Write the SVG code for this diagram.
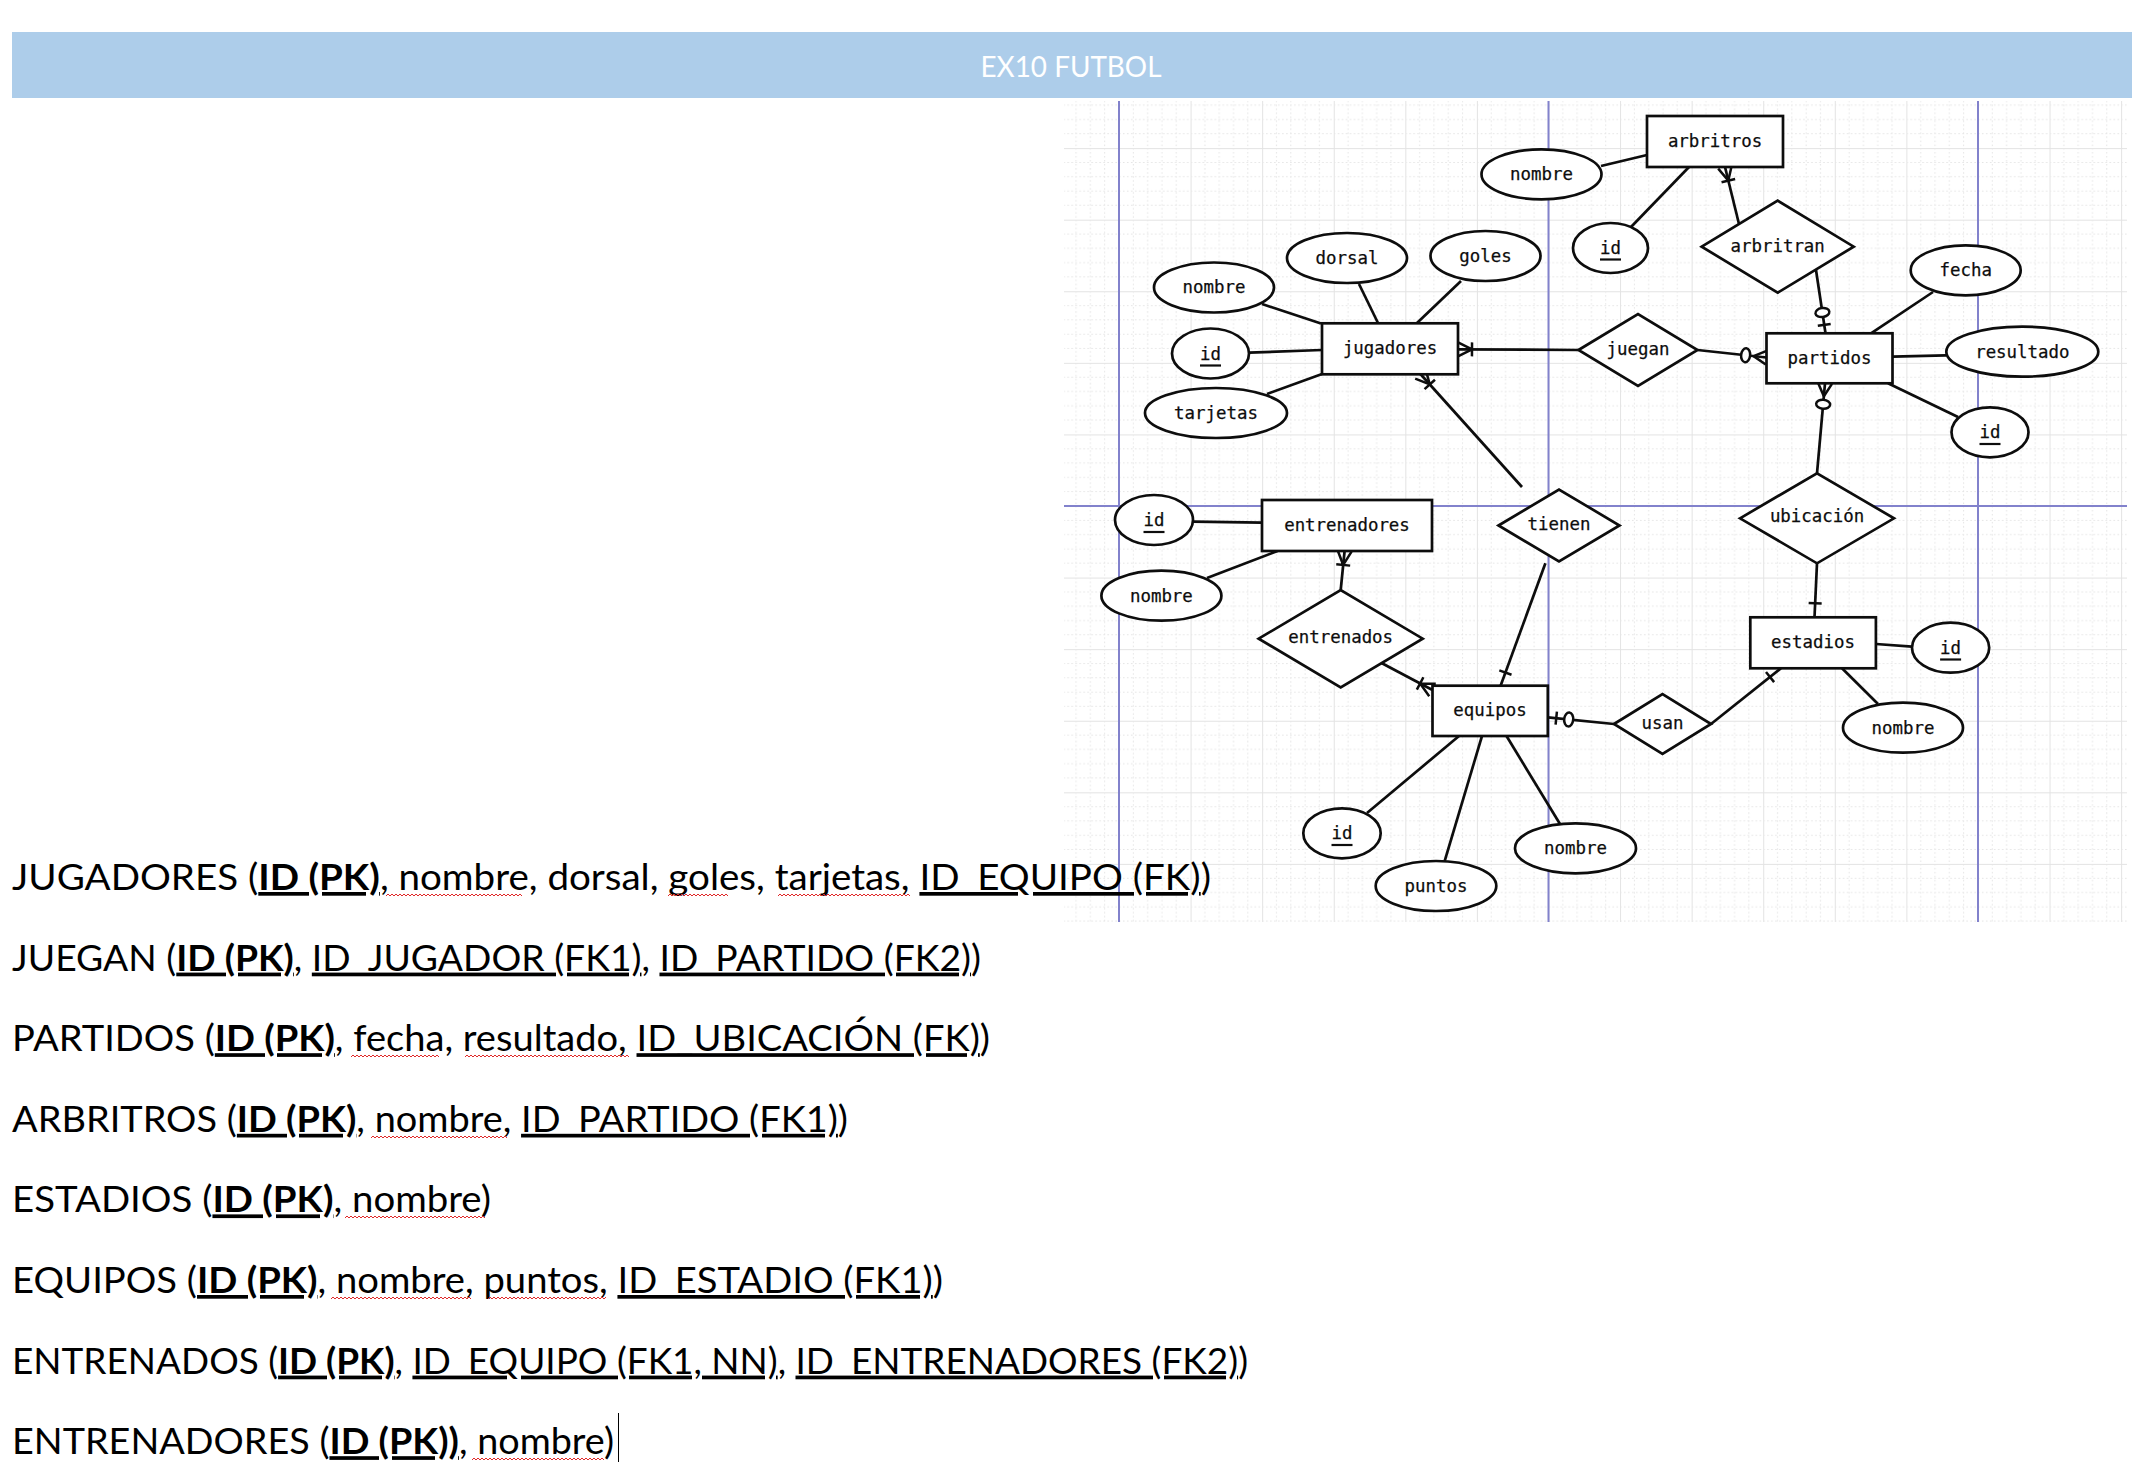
<svg xmlns="http://www.w3.org/2000/svg" width="2152" height="1480" viewBox="0 0 2152 1480">
  <style>
    .ent { fill: #ffffff; stroke: #0d0d0d; stroke-width: 2.7; }
    .rel { fill: #ffffff; stroke: #0d0d0d; stroke-width: 2.7; }
    .att { fill: #ffffff; stroke: #0d0d0d; stroke-width: 2.7; }
    .lbl { font-family: "DejaVu Sans Mono", monospace; font-size: 17.4px; fill: #0d0d0d; text-anchor: middle; stroke: #0d0d0d; stroke-width: 0.25; }
    .key { stroke: #0d0d0d; stroke-width: 2.2; }
    .conn path { fill: none; stroke: #0d0d0d; stroke-width: 2.7; }
    .guide { stroke: #8282cc; stroke-width: 2; }
    .body { font-family: Lato, "Open Sans", sans-serif; font-size: 37px; fill: #000000; }
    .pk { font-weight: 700; text-decoration: underline; }
    .fk { text-decoration: underline; }
  </style>
  <defs>
    <!-- drawing grid: dotted minor lines, solid major lines -->
    <pattern id="gridTile" patternUnits="userSpaceOnUse" x="1119" y="506" width="71.58" height="71.58">
      <path d="M14.316,0V71.58 M28.632,0V71.58 M42.948,0V71.58 M57.264,0V71.58 M0,14.316H71.58 M0,28.632H71.58 M0,42.948H71.58 M0,57.264H71.58" fill="none" stroke="#e4e4e4" stroke-width="1" stroke-dasharray="1.5 2.5"/>
      <path d="M0.5,0V71.58 M0,0.5H71.58" fill="none" stroke="#e3e3e3" stroke-width="1"/>
    </pattern>
    <!-- spell-check squiggle -->
    <pattern id="wave" patternUnits="userSpaceOnUse" x="0" y="0" width="4" height="4">
      <path d="M0,3 L2,1 L4,3" fill="none" stroke="#e02828" stroke-width="1"/>
    </pattern>
    <!-- crow's foot notation ends; x axis points away from the entity -->
    <marker id="mandMany" markerUnits="userSpaceOnUse" orient="auto" overflow="visible" refX="0" refY="0" markerWidth="30" markerHeight="30">
      <path d="M0,-7 L14,0 M0,7 L14,0 M14,-7 L14,7" fill="none" stroke="#0d0d0d" stroke-width="2.5"/>
    </marker>
    <marker id="zeroMany" markerUnits="userSpaceOnUse" orient="auto" overflow="visible" refX="0" refY="0" markerWidth="30" markerHeight="30">
      <path d="M0,-7 L13,0 M0,7 L13,0" fill="none" stroke="#0d0d0d" stroke-width="2.5"/>
      <ellipse cx="21" cy="0" rx="4.5" ry="7" fill="#ffffff" stroke="#0d0d0d" stroke-width="2.5"/>
    </marker>
    <marker id="zeroOne" markerUnits="userSpaceOnUse" orient="auto" overflow="visible" refX="0" refY="0" markerWidth="30" markerHeight="30">
      <path d="M8.5,-6.5 L8.5,6.5" fill="none" stroke="#0d0d0d" stroke-width="2.5"/>
      <ellipse cx="21" cy="0" rx="4.5" ry="7" fill="#ffffff" stroke="#0d0d0d" stroke-width="2.5"/>
    </marker>
    <marker id="one" markerUnits="userSpaceOnUse" orient="auto" overflow="visible" refX="0" refY="0" markerWidth="30" markerHeight="30">
      <path d="M14,-6.5 L14,6.5" fill="none" stroke="#0d0d0d" stroke-width="2.5"/>
    </marker>
  </defs>

  <rect x="0" y="0" width="2152" height="1480" fill="#ffffff"/>

  <!-- title banner -->
  <g id="banner">
    <rect x="12" y="32" width="2120" height="66" fill="#adcdea"/>
    <text x="1071" y="77" font-family="Lato, 'Open Sans', sans-serif" font-size="28" fill="#ffffff" text-anchor="middle" textLength="181" lengthAdjust="spacingAndGlyphs">EX10 FUTBOL</text>
  </g>

  <!-- canvas with grid -->
  <g id="canvas">
    <rect x="1064" y="101" width="1063" height="821" fill="#ffffff"/>
    <rect x="1064" y="101" width="1063" height="821" fill="url(#gridTile)"/>
    <line class="guide" x1="1119" y1="101" x2="1119" y2="922"/>
    <line class="guide" x1="1548.5" y1="101" x2="1548.5" y2="922"/>
    <line class="guide" x1="1978" y1="101" x2="1978" y2="922"/>
    <line class="guide" x1="1064" y1="506" x2="2127" y2="506"/>
  </g>

  <!-- connectors -->
  <g id="connectors" class="conn">
    <!-- attribute links -->
    <path d="M1262,304 L1321,323.5"/>
    <path d="M1359,284 L1378,323"/>
    <path d="M1461,281 L1417,323"/>
    <path d="M1249,352.7 L1322,350"/>
    <path d="M1267,394 L1322,374"/>
    <path d="M1601,166 L1647,155"/>
    <path d="M1631,227 L1689,167"/>
    <path d="M1933,292 L1871,333.3"/>
    <path d="M1946,355.3 L1892.5,356.7"/>
    <path d="M1958,417 L1888,383.3"/>
    <path d="M1912,646.7 L1876,644"/>
    <path d="M1878,704 L1842,668.3"/>
    <path d="M1193,521.7 L1262,522.7"/>
    <path d="M1207,578 L1277.5,551"/>
    <path d="M1367,813 L1459,736"/>
    <path d="M1444.5,861.7 L1482,736"/>
    <path d="M1560,824 L1506.5,736"/>
    <!-- relationship links -->
    <path d="M1458,349.3 L1578.5,350" marker-start="url(#mandMany)"/>
    <path d="M1766.5,357.5 L1697.5,350" marker-start="url(#zeroMany)"/>
    <path d="M1725,167 L1739,224" marker-start="url(#mandMany)"/>
    <path d="M1825.5,333.3 L1816,270" marker-start="url(#zeroOne)"/>
    <path d="M1825,383.3 L1817,473.3" marker-start="url(#zeroMany)"/>
    <path d="M1814.5,617.3 L1817,563.3" marker-start="url(#one)"/>
    <path d="M1781,668.3 L1711,724" marker-start="url(#one)"/>
    <path d="M1547.8,717.3 L1614,724" marker-start="url(#zeroOne)"/>
    <path d="M1500.6,685.7 L1545.4,563.3" marker-start="url(#one)"/>
    <path d="M1420.4,374 L1522,487" marker-start="url(#mandMany)"/>
    <path d="M1432.5,690 L1381.5,663" marker-start="url(#mandMany)"/>
    <path d="M1344.6,551 L1340.7,590" marker-start="url(#mandMany)"/>
  </g>

  <!-- entities -->
  <g id="jugadores">
    <rect class="ent" x="1322" y="323.3" width="136" height="51"/>
    <text class="lbl" x="1390" y="354">jugadores</text>
  </g>
  <g id="arbritros">
    <rect class="ent" x="1647" y="116" width="136" height="51"/>
    <text class="lbl" x="1715" y="147">arbritros</text>
  </g>
  <g id="partidos">
    <rect class="ent" x="1766.5" y="333.3" width="126" height="50"/>
    <text class="lbl" x="1829.5" y="363.5">partidos</text>
  </g>
  <g id="estadios">
    <rect class="ent" x="1750.3" y="617.3" width="125.6" height="51"/>
    <text class="lbl" x="1813" y="647.5">estadios</text>
  </g>
  <g id="equipos">
    <rect class="ent" x="1432.5" y="685.7" width="115.3" height="50.3"/>
    <text class="lbl" x="1490" y="716">equipos</text>
  </g>
  <g id="entrenadores">
    <rect class="ent" x="1262" y="500" width="170" height="51"/>
    <text class="lbl" x="1347" y="531">entrenadores</text>
  </g>

  <!-- relationships -->
  <g id="juegan">
    <polygon class="rel" points="1578.5,350 1638,314 1697.5,350 1638,386"/>
    <text class="lbl" x="1638" y="355">juegan</text>
  </g>
  <g id="arbritran">
    <polygon class="rel" points="1701.7,246.7 1777.7,200.7 1853.7,246.7 1777.7,292.7"/>
    <text class="lbl" x="1777.7" y="251.5">arbritran</text>
  </g>
  <g id="ubicacion">
    <polygon class="rel" points="1740,518.3 1817,473.3 1894,518.3 1817,563.3"/>
    <text class="lbl" x="1817" y="521.5">ubicación</text>
  </g>
  <g id="tienen">
    <polygon class="rel" points="1498.5,525.5 1559,489.5 1619.5,525.5 1559,561.5"/>
    <text class="lbl" x="1559" y="530">tienen</text>
  </g>
  <g id="usan">
    <polygon class="rel" points="1614,724 1662.5,694 1711,724 1662.5,754"/>
    <text class="lbl" x="1662.5" y="728.5">usan</text>
  </g>
  <g id="entrenados">
    <polygon class="rel" points="1258.7,638.7 1340.7,590 1422.7,638.7 1340.7,687.4"/>
    <text class="lbl" x="1340.7" y="643">entrenados</text>
  </g>

  <!-- attributes -->
  <g id="jugadores-nombre">
    <ellipse class="att" cx="1214" cy="287.5" rx="60" ry="25"/>
    <text class="lbl" x="1214" y="293">nombre</text>
  </g>
  <g id="jugadores-dorsal">
    <ellipse class="att" cx="1347" cy="258" rx="60" ry="25"/>
    <text class="lbl" x="1347" y="263.5">dorsal</text>
  </g>
  <g id="jugadores-goles">
    <ellipse class="att" cx="1485.5" cy="256" rx="55" ry="25"/>
    <text class="lbl" x="1485.5" y="261.5">goles</text>
  </g>
  <g id="jugadores-id">
    <ellipse class="att" cx="1210.5" cy="353.5" rx="38.5" ry="25"/>
    <text class="lbl" x="1210.5" y="359.5">id</text>
    <line class="key" x1="1200" y1="365.5" x2="1221" y2="365.5"/>
  </g>
  <g id="jugadores-tarjetas">
    <ellipse class="att" cx="1216" cy="413" rx="71" ry="25"/>
    <text class="lbl" x="1216" y="418.5">tarjetas</text>
  </g>
  <g id="arbritros-nombre">
    <ellipse class="att" cx="1541.5" cy="174.3" rx="60" ry="25"/>
    <text class="lbl" x="1541.5" y="180">nombre</text>
  </g>
  <g id="arbritros-id">
    <ellipse class="att" cx="1610.5" cy="248" rx="37.5" ry="25"/>
    <text class="lbl" x="1610.5" y="254">id</text>
    <line class="key" x1="1600" y1="259.5" x2="1621" y2="259.5"/>
  </g>
  <g id="partidos-fecha">
    <ellipse class="att" cx="1965.7" cy="270.3" rx="55" ry="25"/>
    <text class="lbl" x="1965.7" y="276">fecha</text>
  </g>
  <g id="partidos-resultado">
    <ellipse class="att" cx="2022.3" cy="351.7" rx="76" ry="25"/>
    <text class="lbl" x="2022.3" y="357.5">resultado</text>
  </g>
  <g id="partidos-id">
    <ellipse class="att" cx="1990" cy="432.3" rx="38.5" ry="25"/>
    <text class="lbl" x="1990" y="438.3">id</text>
    <line class="key" x1="1979.5" y1="444" x2="2000.5" y2="444"/>
  </g>
  <g id="estadios-id">
    <ellipse class="att" cx="1950.6" cy="647.7" rx="38.6" ry="25"/>
    <text class="lbl" x="1950.6" y="653.7">id</text>
    <line class="key" x1="1940.1" y1="659.5" x2="1961.1" y2="659.5"/>
  </g>
  <g id="estadios-nombre">
    <ellipse class="att" cx="1903" cy="727.7" rx="60" ry="25"/>
    <text class="lbl" x="1903" y="733.5">nombre</text>
  </g>
  <g id="entrenadores-id">
    <ellipse class="att" cx="1154" cy="520" rx="39" ry="25"/>
    <text class="lbl" x="1154" y="526">id</text>
    <line class="key" x1="1143.5" y1="532" x2="1164.5" y2="532"/>
  </g>
  <g id="entrenadores-nombre">
    <ellipse class="att" cx="1161.4" cy="595.7" rx="60" ry="25"/>
    <text class="lbl" x="1161.4" y="601.5">nombre</text>
  </g>
  <g id="equipos-id">
    <ellipse class="att" cx="1342" cy="833.3" rx="38.7" ry="25"/>
    <text class="lbl" x="1342" y="839.3">id</text>
    <line class="key" x1="1331.5" y1="845" x2="1352.5" y2="845"/>
  </g>
  <g id="equipos-puntos">
    <ellipse class="att" cx="1436" cy="886" rx="60.3" ry="25"/>
    <text class="lbl" x="1436" y="892">puntos</text>
  </g>
  <g id="equipos-nombre">
    <ellipse class="att" cx="1575.5" cy="848.3" rx="60.5" ry="25"/>
    <text class="lbl" x="1575.5" y="854">nombre</text>
  </g>

  <!-- relational schema -->
  <g id="schema">
    <text class="body" x="12" y="890" textLength="1199" lengthAdjust="spacingAndGlyphs">JUGADORES (<tspan class="pk">ID (PK)</tspan>, nombre, dorsal, goles, tarjetas, <tspan class="fk">ID_EQUIPO (FK)</tspan>)</text>
    <text class="body" x="12" y="970.6" textLength="969" lengthAdjust="spacingAndGlyphs">JUEGAN (<tspan class="pk">ID (PK)</tspan>, <tspan class="fk">ID_JUGADOR (FK1)</tspan>, <tspan class="fk">ID_PARTIDO (FK2)</tspan>)</text>
    <text class="body" x="12" y="1051.2" textLength="978" lengthAdjust="spacingAndGlyphs">PARTIDOS (<tspan class="pk">ID (PK)</tspan>, fecha, resultado, <tspan class="fk">ID_UBICACIÓN (FK)</tspan>)</text>
    <text class="body" x="12" y="1131.8" textLength="836" lengthAdjust="spacingAndGlyphs">ARBRITROS (<tspan class="pk">ID (PK)</tspan>, nombre, <tspan class="fk">ID_PARTIDO (FK1)</tspan>)</text>
    <text class="body" x="12" y="1212.4" textLength="479" lengthAdjust="spacingAndGlyphs">ESTADIOS (<tspan class="pk">ID (PK)</tspan>, nombre)</text>
    <text class="body" x="12" y="1293" textLength="931" lengthAdjust="spacingAndGlyphs">EQUIPOS (<tspan class="pk">ID (PK)</tspan>, nombre, puntos, <tspan class="fk">ID_ESTADIO (FK1)</tspan>)</text>
    <text class="body" x="12" y="1373.6" textLength="1236" lengthAdjust="spacingAndGlyphs">ENTRENADOS (<tspan class="pk">ID (PK)</tspan>, <tspan class="fk">ID_EQUIPO (FK1, NN)</tspan>, <tspan class="fk">ID_ENTRENADORES (FK2)</tspan>)</text>
    <text class="body" x="12" y="1454.2" textLength="602" lengthAdjust="spacingAndGlyphs">ENTRENADORES (<tspan class="pk">ID (PK))</tspan>, nombre)</text>
    <!-- spell-check marks -->
    <rect x="0" y="0" width="136" height="4" fill="url(#wave)" transform="translate(386,893)"/>
    <rect x="0" y="0" width="60" height="4" fill="url(#wave)" transform="translate(668,893)"/>
    <rect x="0" y="0" width="132" height="4" fill="url(#wave)" transform="translate(778,893)"/>
    <rect x="0" y="0" width="88" height="4" fill="url(#wave)" transform="translate(351,1054)"/>
    <rect x="0" y="0" width="164" height="4" fill="url(#wave)" transform="translate(465,1054)"/>
    <rect x="0" y="0" width="136" height="4" fill="url(#wave)" transform="translate(371,1135)"/>
    <rect x="0" y="0" width="140" height="4" fill="url(#wave)" transform="translate(345,1215)"/>
    <rect x="0" y="0" width="140" height="4" fill="url(#wave)" transform="translate(331,1296)"/>
    <rect x="0" y="0" width="118" height="4" fill="url(#wave)" transform="translate(488,1296)"/>
    <rect x="0" y="0" width="132" height="4" fill="url(#wave)" transform="translate(472,1457)"/>
    <!-- text caret -->
    <line x1="618.5" y1="1413" x2="618.5" y2="1462" stroke="#000000" stroke-width="1"/>
  </g>
</svg>
